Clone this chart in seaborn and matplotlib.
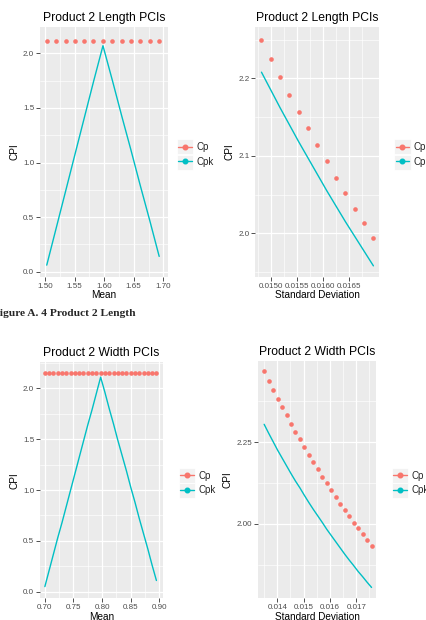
import numpy as np
import pandas as pd
import matplotlib.pyplot as plt
import seaborn as sns
from matplotlib.lines import Line2D
from matplotlib.patches import Rectangle
from matplotlib.ticker import FixedLocator, FormatStrFormatter

sns.set_theme(style='darkgrid')
plt.rcParams['font.family'] = ['Liberation Sans', 'DejaVu Sans']

RED = '#F8766D'
TEAL = '#00BFC4'
W, H = 426, 620

# Product 2 length - PCIs against the mean
len_mean = [1.503, 1.519, 1.535, 1.550, 1.566, 1.582, 1.598, 1.614, 1.630, 1.645, 1.661, 1.677, 1.693]
len_mean_cp = [2.115, 2.115, 2.115, 2.115, 2.115, 2.115, 2.115, 2.115, 2.115, 2.115, 2.115, 2.115, 2.115]
len_mean_cpk = [0.06, 0.40, 0.74, 1.06, 1.40, 1.74, 2.07, 1.75, 1.42, 1.12, 0.79, 0.47, 0.14]

# Product 2 length - PCIs against the standard deviation
len_sd = [0.01481, 0.01499, 0.01517, 0.01535, 0.01553, 0.01571, 0.01589,
          0.01607, 0.01625, 0.01643, 0.01661, 0.01679, 0.01697]
len_sd_cp = [2.249, 2.225, 2.202, 2.179, 2.157, 2.136, 2.114, 2.093, 2.072, 2.052, 2.032, 2.013, 1.994]
len_sd_cpk = [2.208, 2.185, 2.162, 2.140, 2.118, 2.097, 2.076, 2.055, 2.035, 2.015, 1.996, 1.977, 1.958]

# Product 2 width - PCIs against the mean
wid_mean = [0.700, 0.7075, 0.715, 0.7225, 0.730, 0.7375, 0.745, 0.7525, 0.760, 0.7675,
            0.775, 0.7825, 0.790, 0.7975, 0.805, 0.8125, 0.820, 0.8275, 0.835, 0.8425,
            0.850, 0.8575, 0.865, 0.8725, 0.880, 0.8875, 0.895]
wid_mean_cp = [2.15, 2.15, 2.15, 2.15, 2.15, 2.15, 2.15, 2.15, 2.15, 2.15,
               2.15, 2.15, 2.15, 2.15, 2.15, 2.15, 2.15, 2.15, 2.15, 2.15,
               2.15, 2.15, 2.15, 2.15, 2.15, 2.15, 2.15]
wid_mean_cpk = [0.05, 0.21, 0.37, 0.53, 0.68, 0.84, 1.00, 1.16, 1.32, 1.48,
                1.64, 1.79, 1.95, 2.11, 1.96, 1.80, 1.65, 1.49, 1.34, 1.19,
                1.03, 0.88, 0.72, 0.57, 0.42, 0.26, 0.11]

# Product 2 width - PCIs against the standard deviation
wid_sd = [0.01350, 0.01367, 0.01384, 0.01401, 0.01418, 0.01435, 0.01452, 0.01469, 0.01486,
          0.01503, 0.01520, 0.01537, 0.01554, 0.01571, 0.01588, 0.01605, 0.01622, 0.01639,
          0.01656, 0.01673, 0.01690, 0.01707, 0.01724, 0.01741, 0.01758]
wid_sd_cp = [2.468, 2.439, 2.411, 2.384, 2.358, 2.332, 2.307, 2.282, 2.259, 2.235, 2.211, 2.188,
             2.167, 2.145, 2.124, 2.103, 2.082, 2.062, 2.042, 2.023, 2.004, 1.986, 1.968, 1.949, 1.932]
wid_sd_cpk = [2.305, 2.278, 2.252, 2.226, 2.202, 2.178, 2.154, 2.131, 2.110, 2.087, 2.065, 2.044,
              2.024, 2.004, 1.983, 1.964, 1.945, 1.926, 1.907, 1.889, 1.872, 1.854, 1.838, 1.821, 1.805]


fig = plt.figure(figsize=(W / 100, H / 100), dpi=100)
fig.patch.set_facecolor('white')


def px_axes(l, t, r, b):
    return fig.add_axes([l / W, 1 - b / H, (r - l) / W, (b - t) / H])


def panel(box, x, cp, cpk, title, xlabel, xlim, ylim, xt, xminor, yt, yminor, xfmt, yfmt, leg_x, leg_y):
    ax = px_axes(*box)
    df = pd.DataFrame({'x': x, 'Cp': cp, 'Cpk': cpk})
    sns.lineplot(data=df, x='x', y='Cpk', color=TEAL, lw=1.0, ax=ax, legend=False)
    sns.scatterplot(data=df, x='x', y='Cp', color=RED, s=11, linewidth=0, ax=ax, legend=False, zorder=3)
    ax.set_facecolor('#EBEBEB')
    ax.set_xlim(*xlim)
    ax.set_ylim(*ylim)
    ax.xaxis.set_major_locator(FixedLocator(xt))
    ax.yaxis.set_major_locator(FixedLocator(yt))
    ax.xaxis.set_minor_locator(FixedLocator(xminor))
    ax.yaxis.set_minor_locator(FixedLocator(yminor))
    ax.xaxis.set_major_formatter(FormatStrFormatter(xfmt))
    ax.yaxis.set_major_formatter(FormatStrFormatter(yfmt))
    ax.grid(which='major', color='white', lw=0.9)
    ax.grid(which='minor', color='white', lw=0.45)
    for s in ax.spines.values():
        s.set_visible(False)
    ax.tick_params(which='major', length=3, width=0.6, color='#333333', labelcolor='#4D4D4D',
                   labelsize=5.8, pad=1.2, bottom=True, left=True)
    ax.tick_params(which='minor', length=0)
    ax.set_title(title, fontsize=8.7, pad=4, color='black')
    ax.set_xlabel(xlabel, fontsize=7.2, labelpad=0.5, color='black')
    ax.set_ylabel('CPI', fontsize=7.2, labelpad=2.5, color='black')

    # legend key backgrounds like ggplot
    for dy in (-7.8, 7.8):
        fig.add_artist(Rectangle(((leg_x - 1.5) / W, 1 - (leg_y + dy + 7.6) / H), 16.6 / W, 15.2 / H,
                                 transform=fig.transFigure, facecolor='#F2F2F2', edgecolor='white',
                                 lw=0.6, zorder=-1))
    handles = [Line2D([], [], color=RED, marker='o', markersize=3.3, lw=1),
               Line2D([], [], color=TEAL, marker='o', markersize=3.3, lw=1)]
    ax.legend(handles, ['Cp', 'Cpk'], loc='center left', bbox_to_anchor=(leg_x / W, 1 - leg_y / H),
              bbox_transform=fig.transFigure, frameon=False, fontsize=7, handlelength=1.4,
              handletextpad=0.5, borderpad=0, borderaxespad=0, labelspacing=0.45)
    return ax


panel((40, 26.7, 168.3, 276.7), len_mean, len_mean_cp, len_mean_cpk,
      'Product 2 Length PCIs', 'Mean', (1.4916, 1.7084), (-0.046, 2.244),
      [1.50, 1.55, 1.60, 1.65, 1.70], [1.525, 1.575, 1.625, 1.675],
      [0.0, 0.5, 1.0, 1.5, 2.0], [0.25, 0.75, 1.25, 1.75], '%.2f', '%.1f', 178, 154.5)

panel((255.3, 26.7, 379, 276.7), len_sd, len_sd_cp, len_sd_cpk,
      'Product 2 Length PCIs', 'Standard Deviation', (0.014691, 0.017078), (1.944, 2.2667),
      [0.0150, 0.0155, 0.0160, 0.0165], [0.01475, 0.01525, 0.01575, 0.01625, 0.01675],
      [2.0, 2.1, 2.2], [1.95, 2.05, 2.15, 2.25], '%.4f', '%.1f', 395.5, 154.5)

panel((40, 362, 163, 598.3), wid_mean, wid_mean_cp, wid_mean_cpk,
      'Product 2 Width PCIs', 'Mean', (0.6915, 0.9065), (-0.065, 2.259),
      [0.70, 0.75, 0.80, 0.85, 0.90], [0.725, 0.775, 0.825, 0.875],
      [0.0, 0.5, 1.0, 1.5, 2.0], [0.25, 0.75, 1.25, 1.75, 2.25], '%.2f', '%.1f', 180, 483)

panel((258, 361, 376.3, 598.3), wid_sd, wid_sd_cp, wid_sd_cpk,
      'Product 2 Width PCIs', 'Standard Deviation', (0.013267, 0.01776), (1.7717, 2.499),
      [0.014, 0.015, 0.016, 0.017], [0.0135, 0.0145, 0.0155, 0.0165, 0.0175],
      [2.00, 2.25], [1.875, 2.125, 2.375], '%.3f', '%.2f', 393, 483)

fig.text(-7 / W, 1 - 313 / H, 'Figure A. 4 Product 2 Length', family=['Liberation Serif', 'DejaVu Serif'],
         weight='bold', fontsize=8.2, va='center', ha='left')

fig.savefig('out.png', dpi=100)
